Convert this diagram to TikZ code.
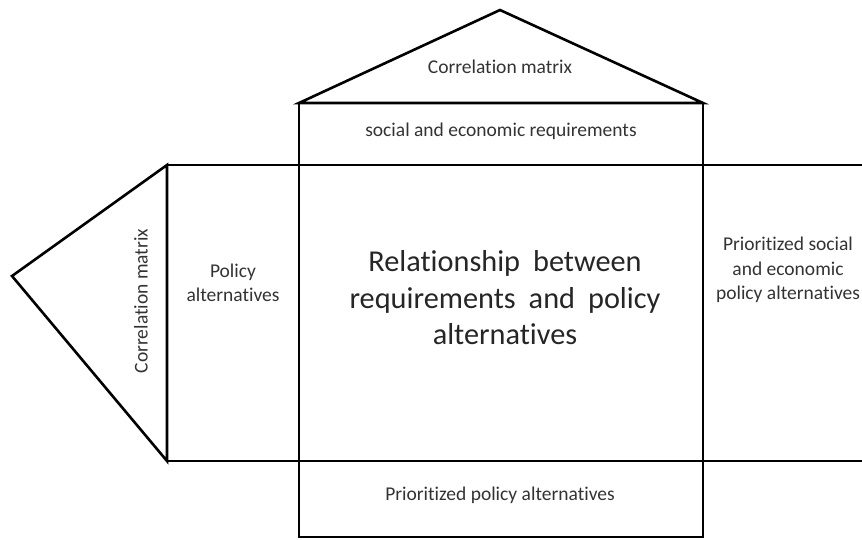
\documentclass[tikz,border=0pt]{standalone}
\usepackage{fontspec}
\setmainfont{Carlito}[Ligatures=NoCommon]
\newfontfamily\widefont{Carlito}[Ligatures=NoCommon, WordSpace=1.9]
\usepackage{tikz}
\usetikzlibrary{positioning,calc}

\begin{document}
\begin{tikzpicture}[
    x=1pt, y=-1pt,
    wall/.style={draw, line width=2.6pt, line join=miter},
    label/.style={font=\fontsize{19.5}{24.5}\selectfont, text=black!80, align=center},
    biglabel/.style={font=\widefont\fontsize{30.3}{36.5}\selectfont, text=black!85, align=center}
]
\useasboundingbox (0,0) rectangle (862,539);

% House frame
\coordinate (apex) at (500,10);
\coordinate (roofL) at (299,103);
\coordinate (roofR) at (703,103);
\coordinate (wingT) at (167,165);
\coordinate (wingB) at (167,461);
\coordinate (wingTip) at (12,276);

\draw[wall] (roofL) -- (apex) -- (roofR) -- cycle;
\draw[wall] (roofL) rectangle (703,537);
\draw[wall] (wingT) -- (862,165);
\draw[wall] (wingB) -- (862,461);
\draw[wall] (wingT) -- (wingTip) -- (wingB) -- cycle;

% Labels
\node[label] (roof) at (500,67) {Correlation matrix};
\node[label] (req) at (501,131) {social and economic requirements};
\node[label, rotate=90] (side) at (141,301) {Correlation matrix};
\node[label] (pol) at (233,283) {Policy\\alternatives};
\node[biglabel] (rel) at (505,298) {Relationship between\\requirements and policy\\alternatives};
\node[label] (prio) at (788,270) {Prioritized social\\and economic\\policy alternatives};
\node[label] (prpol) at (500,495) {Prioritized policy alternatives};
\end{tikzpicture}
\end{document}
